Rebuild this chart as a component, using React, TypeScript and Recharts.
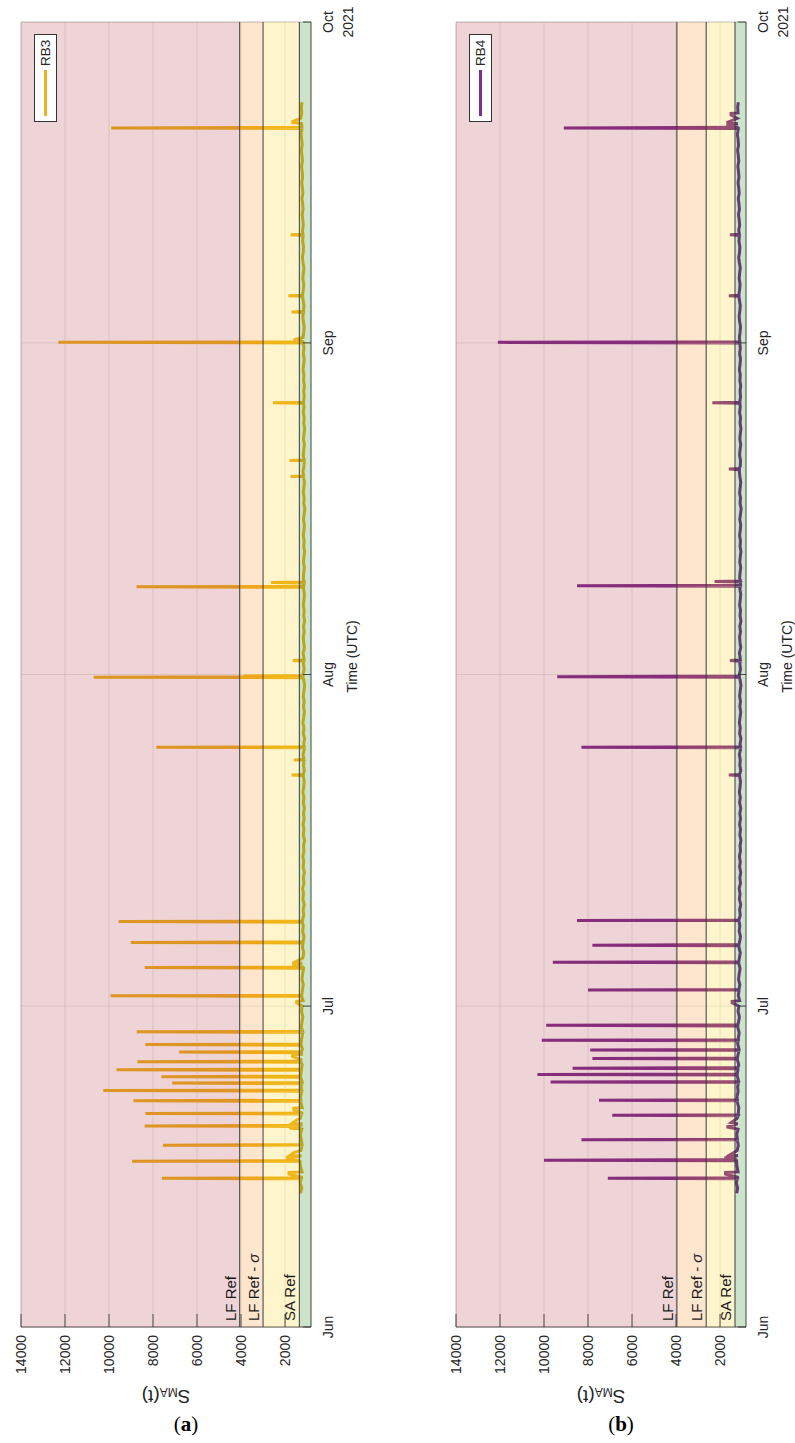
import React from "react";
import {
  LineChart,
  Line,
  XAxis,
  YAxis,
  CartesianGrid,
  ReferenceArea,
  ReferenceLine,
  Legend,
} from "recharts";

const FONT = '"Liberation Sans", Arial, sans-serif';
const INK = "#262626";

// time axis: days after 1 Jun 2021
const MONTH_TICKS = [0, 30, 61, 92, 122];
const MONTH_LABELS = ["Jun", "Jul", "Aug", "Sep", "Oct"];
const YEAR_LABEL = "2021";
const VALUE_TICKS = [2000, 4000, 6000, 8000, 10000, 12000, 14000];
const Y_MIN = 820;
const Y_MAX = 14000;

// baselines are read every half day, from 12.5 days after 1 Jun
const BASE_START = 12.5;
const BASE_STEP = 0.5;

// RB3
const RB3_BASE = [
  1300, 1240, 1310, 1260, 1230, 1290, 1320, 1250, 1280, 1230,
  1260, 1300, 1240, 1270, 1310, 1250, 1220, 1280, 1300, 1240,
  1270, 1230, 1290, 1260, 1220, 1280, 1250, 1210, 1270, 1240,
  1200, 1260, 1230, 1190, 1250, 1220, 1180, 1240, 1210, 1170,
  1230, 1200, 1160, 1220, 1190, 1150, 1210, 1180, 1140, 1200,
  1170, 1210, 1150, 1180, 1130, 1190, 1160, 1200, 1140, 1170,
  1120, 1180, 1150, 1190, 1140, 1160, 1110, 1170, 1140, 1180,
  1130, 1160, 1120, 1170, 1140, 1190, 1150, 1130, 1170, 1120,
  1160, 1140, 1180, 1130, 1150, 1110, 1170, 1140, 1190, 1150,
  1120, 1160, 1130, 1170, 1140, 1110, 1150, 1180, 1130, 1160,
  1140, 1180, 1120, 1150, 1170, 1130, 1160, 1110, 1150, 1130,
  1170, 1140, 1120, 1160, 1130, 1170, 1150, 1120, 1160, 1140,
  1110, 1150, 1130, 1170, 1140, 1120, 1160, 1130, 1100, 1150,
  1130, 1170, 1140, 1120, 1160, 1180, 1140, 1130, 1170, 1150,
  1120, 1160, 1140, 1110, 1150, 1130, 1170, 1140, 1160, 1130,
  1150, 1120, 1160, 1140, 1180, 1150, 1130, 1170, 1140, 1160,
  1180, 1150, 1130, 1170, 1190, 1160, 1140, 1180, 1200, 1170,
  1150, 1190, 1170, 1140, 1180, 1210, 1170, 1160, 1200, 1180,
  1210, 1170, 1190, 1220, 1180, 1200, 1230, 1190, 1210, 1240,
  1200, 1220, 1250, 1210, 1230, 1260, 1220, 1240, 1270, 1230,
  1250, 1280, 1240, 1260, 1230,
];
const RB3_SPIKE_DAY = [
  13.9, 15.5, 17.0, 18.8, 19.97, 21.15, 22.1, 22.8, 23.4, 24.05, 24.8, 25.7,
  26.4, 27.6, 30.96, 33.6, 35.95, 37.9, 51.6, 53.0, 54.2, 60.75, 60.85, 62.3,
  69.2, 69.6, 79.5, 81.0, 86.4, 92.05, 94.9, 96.4, 102.1, 112.1,
];
const RB3_SPIKE_PEAK = [
  7590, 8950, 7550, 8380, 8350, 8890, 10260, 7130, 7620, 9660, 8710, 6810,
  8350, 8740, 9930, 8380, 9010, 9560, 1700, 1600, 7850, 10700, 3900, 1650,
  8750, 2640, 1750, 1800, 2550, 12300, 1700, 1850, 1750, 9900,
];
const RB3_SHELF_DAY = [
  14.3, 14.45, 15.7, 16.0, 16.3, 18.6, 19.0, 19.3, 20.3, 20.45, 25.3, 25.45,
  30.3, 30.45, 33.8, 34.0, 92.3, 112.6, 112.7,
];
const RB3_SHELF_VAL = [
  1820, 1820, 1950, 1800, 1600, 1800, 1700, 1500, 1600, 1600, 1660, 1660,
  1470, 1470, 1660, 1660, 1600, 1650, 1650,
];
const RB3_LF_REF = 4060;
const RB3_LF_SIGMA = 3000;
const RB3_SA_REF = 1350;

// RB4
const RB4_BASE = [
  1240, 1200, 1260, 1210, 1180, 1230, 1250, 1190, 1220, 1170,
  1210, 1240, 1180, 1200, 1230, 1170, 1150, 1210, 1230, 1180,
  1200, 1160, 1220, 1190, 1150, 1210, 1180, 1140, 1200, 1170,
  1130, 1190, 1160, 1120, 1180, 1150, 1110, 1170, 1140, 1100,
  1160, 1130, 1090, 1150, 1120, 1080, 1140, 1110, 1070, 1130,
  1100, 1140, 1080, 1110, 1060, 1120, 1090, 1130, 1070, 1100,
  1060, 1110, 1080, 1120, 1070, 1090, 1050, 1100, 1070, 1110,
  1070, 1100, 1060, 1110, 1080, 1120, 1090, 1070, 1110, 1060,
  1100, 1080, 1120, 1070, 1090, 1050, 1110, 1080, 1120, 1090,
  1060, 1100, 1070, 1110, 1080, 1050, 1090, 1120, 1070, 1100,
  1080, 1120, 1060, 1090, 1110, 1070, 1100, 1050, 1090, 1070,
  1110, 1080, 1060, 1100, 1070, 1110, 1090, 1060, 1100, 1080,
  1050, 1090, 1070, 1110, 1080, 1060, 1100, 1070, 1040, 1090,
  1070, 1110, 1080, 1060, 1100, 1120, 1080, 1070, 1110, 1090,
  1060, 1100, 1080, 1050, 1090, 1070, 1110, 1080, 1100, 1070,
  1090, 1060, 1100, 1080, 1120, 1090, 1070, 1110, 1080, 1100,
  1120, 1090, 1070, 1110, 1130, 1100, 1080, 1120, 1140, 1110,
  1090, 1130, 1110, 1080, 1120, 1150, 1110, 1100, 1140, 1120,
  1150, 1110, 1130, 1160, 1120, 1140, 1170, 1130, 1150, 1180,
  1140, 1160, 1190, 1150, 1170, 1200, 1160, 1180, 1210, 1170,
  1190, 1220, 1180, 1200, 1170,
];
const RB4_SPIKE_DAY = [
  13.9, 15.6, 17.5, 19.8, 21.2, 22.9, 23.6, 24.2, 25.1, 25.9, 26.8, 28.2,
  31.5, 34.1, 35.7, 38.0, 51.6, 54.2, 60.8, 62.3, 69.3, 69.7, 80.2, 86.4,
  92.05, 96.4, 102.1, 112.1,
];
const RB4_SPIKE_PEAK = [
  7100, 10000, 8300, 6900, 7500, 9700, 10300, 8700, 7800, 7900, 10100, 9900,
  8000, 9600, 7800, 8500, 1600, 8300, 9400, 1550, 8500, 2250, 1600, 2350,
  12100, 1600, 1550, 9100,
];
const RB4_SHELF_DAY = [
  14.3, 14.45, 15.8, 16.1, 18.7, 19.1, 30.3, 30.45, 112.4, 112.6, 113.3, 113.45,
];
const RB4_SHELF_VAL = [
  1750, 1750, 1800, 1550, 1700, 1500, 1450, 1450, 1700, 1700, 1500, 1500,
];
const RB4_LF_REF = 3960;
const RB4_LF_SIGMA = 2630;
const RB4_SA_REF = 1320;

type Pt = { t: number; v: number };

function buildSeries(
  base: number[],
  spikeDay: number[],
  spikePeak: number[],
  shelfDay: number[],
  shelfVal: number[]
): Pt[] {
  const pts: Pt[] = base.map((v, i) => ({ t: BASE_START + i * BASE_STEP, v }));
  spikeDay.forEach((d, i) => {
    const k = Math.min(base.length - 1, Math.max(0, Math.round((d - BASE_START) / BASE_STEP)));
    const foot = base[k];
    pts.push({ t: d - 0.05, v: foot }, { t: d, v: spikePeak[i] }, { t: d + 0.05, v: foot });
  });
  shelfDay.forEach((d, i) => pts.push({ t: d, v: shelfVal[i] }));
  return pts.sort((a, b) => a.t - b.t);
}

const TimeTick = (props: any) => {
  const { x, y, payload } = props;
  const i = MONTH_TICKS.indexOf(payload.value);
  return (
    <g>
      <line x1={x} x2={x} y1={y - 17} y2={y - 25} stroke={INK} strokeWidth={0.8} />
      <text x={x} y={y} dy="0.35em" textAnchor="middle" fontSize={14} fill={INK} fontFamily={FONT}>
        {MONTH_LABELS[i]}
      </text>
      {payload.value === 122 && (
        <text x={x} y={y + 20} dy="0.35em" textAnchor="middle" fontSize={14} fill={INK} fontFamily={FONT}>
          {YEAR_LABEL}
        </text>
      )}
    </g>
  );
};

const ValueTick = (props: any) => {
  const { x, y, payload } = props;
  return (
    <g>
      <line x1={x + 8} x2={x + 21} y1={y} y2={y} stroke={INK} strokeWidth={0.8} />
      <text x={x} y={y} dy="0.35em" textAnchor="end" fontSize={14} fill={INK} fontFamily={FONT}>
        {payload.value}
      </text>
    </g>
  );
};

const YLabel = (props: any) => {
  const vb = props.viewBox;
  const cx = vb.x - 10;
  const cy = vb.y + vb.height / 2;
  return (
    <text
      x={cx}
      y={cy}
      textAnchor="middle"
      dominantBaseline="central"
      transform={`rotate(-90, ${cx}, ${cy})`}
      fill={INK}
      fontFamily={FONT}
      fontSize={19}
    >
      <tspan>S</tspan>
      <tspan fontSize={12} dy={5}>MA</tspan>
      <tspan dy={-5}>(t)</tspan>
    </text>
  );
};

const XLabel = (props: any) => {
  const vb = props.viewBox;
  return (
    <text
      x={vb.x + vb.width / 2 + 18}
      y={vb.y + 41.5}
      dy="0.35em"
      textAnchor="middle"
      fill={INK}
      fontFamily={FONT}
      fontSize={14}
    >
      Time (UTC)
    </text>
  );
};

const refLabel = (kind: "lf" | "sigma" | "sa") => (props: any) => {
  const vb = props.viewBox;
  return (
    <text x={vb.x + 6} y={vb.y - 4} fill="#1a1a1a" fontFamily={FONT} fontSize={15}>
      {kind === "lf" && "LF Ref"}
      {kind === "sigma" && (
        <>
          LF Ref - <tspan fontStyle="italic">σ</tspan>
        </>
      )}
      {kind === "sa" && "SA Ref"}
    </text>
  );
};

const LegendBox = ({ name, color }: { name: string; color: string }) => (
  <div
    style={{
      width: 86,
      height: 21,
      border: "1px solid #333",
      background: "#fff",
      display: "flex",
      alignItems: "center",
      fontFamily: FONT,
      fontSize: 13.5,
      color: INK,
    }}
  >
    <svg width={55} height={21}>
      <line x1={5} x2={51} y1={10.5} y2={10.5} stroke={color} strokeWidth={3} />
    </svg>
    <span>{name}</span>
  </div>
);

interface PanelProps {
  left: number;
  name: string;
  color: string;
  data: Pt[];
  lfRef: number;
  lfSigma: number;
  saRef: number;
}

function Panel({ left, name, color, data, lfRef, lfSigma, saRef }: PanelProps) {
  return (
    <div
      style={{
        position: "absolute",
        left,
        top: 1443,
        width: 1440,
        height: 420,
        transform: "rotate(-90deg)",
        transformOrigin: "0 0",
      }}
    >
      <LineChart width={1440} height={420} data={data} margin={{ top: 21, right: 19, bottom: 49, left: 56 }}>
        <CartesianGrid stroke="#000" strokeOpacity={0.12} strokeWidth={0.8} />
        <XAxis
          dataKey="t"
          type="number"
          domain={[0, 122]}
          ticks={MONTH_TICKS}
          interval={0}
          tick={<TimeTick />}
          tickLine={false}
          tickSize={0}
          tickMargin={17}
          height={60}
          axisLine={{ stroke: INK, strokeWidth: 0.8 }}
          label={XLabel}
        />
        <YAxis
          type="number"
          domain={[Y_MIN, Y_MAX]}
          ticks={VALUE_TICKS}
          allowDataOverflow
          interval={0}
          tick={<ValueTick />}
          tickLine={false}
          tickSize={0}
          tickMargin={8}
          width={60}
          axisLine={{ stroke: INK, strokeWidth: 0.8 }}
          label={YLabel}
        />
        <Line
          dataKey="v"
          name={name}
          type="linear"
          stroke={color}
          strokeWidth={3}
          strokeLinejoin="miter"
          dot={false}
          isAnimationActive={false}
        />
        <ReferenceArea y1={lfRef} y2={Y_MAX} fill="rgb(170,40,50)" fillOpacity={0.2} stroke="none" zIndex={600} />
        <ReferenceArea y1={lfSigma} y2={lfRef} fill="rgb(245,125,10)" fillOpacity={0.2} stroke="none" zIndex={600} />
        <ReferenceArea y1={saRef} y2={lfSigma} fill="rgb(255,205,0)" fillOpacity={0.2} stroke="none" zIndex={600} />
        <ReferenceArea y1={Y_MIN} y2={saRef} fill="rgb(0,120,0)" fillOpacity={0.2} stroke="none" zIndex={600} />
        <ReferenceLine y={lfRef} stroke="#3a3a3a" strokeWidth={1} label={refLabel("lf")} zIndex={700} />
        <ReferenceLine y={lfSigma} stroke="#3a3a3a" strokeWidth={1} label={refLabel("sigma")} zIndex={700} />
        <ReferenceLine y={saRef} stroke="#3a3a3a" strokeWidth={1} label={refLabel("sa")} zIndex={700} />
        <ReferenceLine y={Y_MAX} stroke="#c8c8c8" strokeWidth={1} />
        <ReferenceLine x={122} stroke="#c8c8c8" strokeWidth={1} />
        <Legend
          layout="vertical"
          align="center"
          verticalAlign="middle"
          wrapperStyle={{ top: 34, right: 31, left: "auto", bottom: "auto", width: "auto", height: "auto" }}
          content={() => <LegendBox name={name} color={color} />}
        />
      </LineChart>
    </div>
  );
}

const rb3 = buildSeries(RB3_BASE, RB3_SPIKE_DAY, RB3_SPIKE_PEAK, RB3_SHELF_DAY, RB3_SHELF_VAL);
const rb4 = buildSeries(RB4_BASE, RB4_SPIKE_DAY, RB4_SPIKE_PEAK, RB4_SHELF_DAY, RB4_SHELF_VAL);

const captionStyle: React.CSSProperties = {
  position: "absolute",
  top: 1412,
  width: 120,
  textAlign: "center",
  fontFamily: '"Liberation Serif", "DejaVu Serif", serif',
  fontSize: 21,
  color: "#000",
};

export default function App() {
  return (
    <div
      style={{
        position: "absolute",
        left: 0,
        top: 0,
        width: 795,
        height: 1443,
        overflow: "hidden",
        background: "#fff",
        fontFamily: FONT,
      }}
    >
      <Panel left={0} name="RB3" color="#EDB120" data={rb3} lfRef={RB3_LF_REF} lfSigma={RB3_LF_SIGMA} saRef={RB3_SA_REF} />
      <Panel left={434.5} name="RB4" color="#7E2F8E" data={rb4} lfRef={RB4_LF_REF} lfSigma={RB4_LF_SIGMA} saRef={RB4_SA_REF} />
      <div style={{ ...captionStyle, left: 186 - 60 }}>
        (<b>a</b>)
      </div>
      <div style={{ ...captionStyle, left: 621 - 60 }}>
        (<b>b</b>)
      </div>
    </div>
  );
}
